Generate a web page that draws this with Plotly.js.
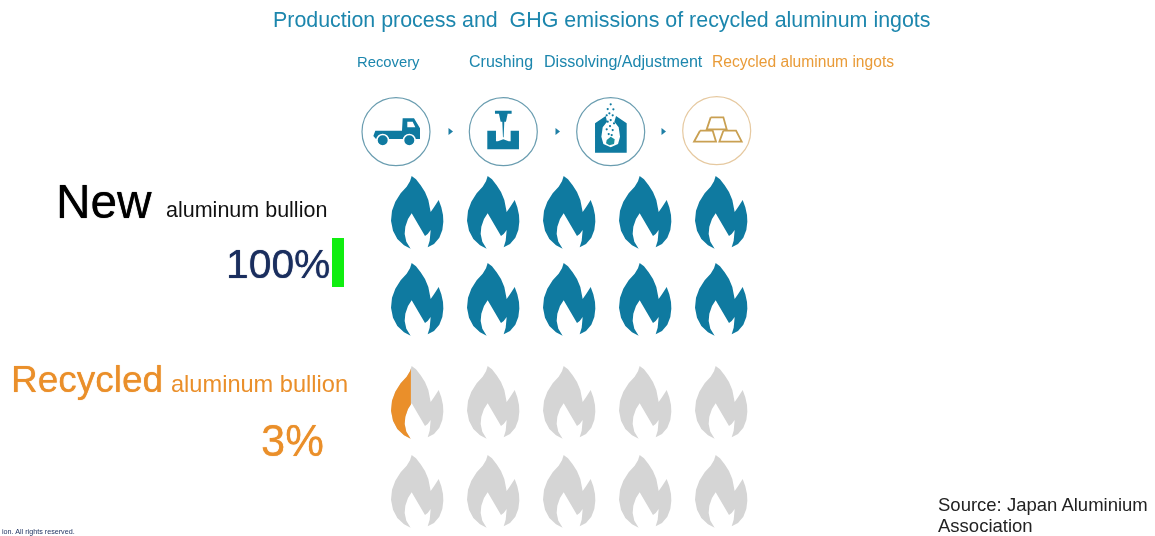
<!DOCTYPE html>
<html><head><meta charset="utf-8">
<script src="https://cdn.plot.ly/plotly-3.0.1.min.js"></script>
<style>html,body{margin:0;padding:0;background:#fff}#c{width:1155px;height:536px;filter:blur(0.45px)}</style>
</head><body><div id="c"></div>
<script>
// ---- Data ----
const titleText = "Production process and  GHG emissions of recycled aluminum ingots";
const processSteps = ["Recovery", "Crushing", "Dissolving/Adjustment", "Recycled aluminum ingots"];
const newFlameFill = [1,1,1,1,1,1,1,1,1,1];
const recycledFlameFill = [0.38,0,0,0,0,0,0,0,0,0];
const newLabel = "New", newSubLabel = "aluminum bullion", newShare = "100%";
const recycledLabel = "Recycled", recycledSubLabel = "aluminum bullion", recycledShare = "3%";
const sourceLines = ["Source: Japan Aluminium", "Association"];
const copyrightText = "ion. All rights reserved.";

// ---- Layout constants ----
const BLUE="#0f7aa0", GRAY="#d5d5d5", ORANGE="#ea8f2a", TITLEBLUE="#1c86ad", LABELORANGE="#e99b38", GOLD="#c9a052";
const FONT='"Liberation Sans", Arial, sans-serif';
const flameCols=[391,467,543,619,695], flameRowsNew=[170,257], flameRowsRec=[360,449];

const flameOutline=[[95,18],[108,28],[122,46],[135,66],[145,90],[150,110],[152,126],[162,112],[176,90],[184,112],[189,135],[190,155],[187,180],[178,203],[162,222],[143,232],[149,212],[152,180],[143,192],[135,198],[122,175],[108,150],[95,130],[84,147],[76,170],[74,192],[79,215],[92,236],[72,226],[52,207],[39,182],[33,152],[36,122],[46,95],[62,70],[80,50],[90,34]]
  .map(p=>[(p[0]-33)/3,p[1]/3]);
const flameW=(190-33)/3;

function clipRight(poly,xm){
  const out=[];
  for(let i=0;i<poly.length;i++){
    const a=poly[i],b=poly[(i+1)%poly.length],ai=a[0]<=xm,bi=b[0]<=xm;
    if(ai) out.push(a);
    if(ai!==bi){const t=(xm-a[0])/(b[0]-a[0]);out.push([xm,a[1]+t*(b[1]-a[1])]);}
  }
  return out;
}
function polyTrace(polys,ox,oy,color,opts){
  const x=[],y=[];
  polys.forEach(p=>{p.forEach(q=>{x.push(ox+q[0]);y.push(oy+q[1]);});x.push(ox+p[0][0]);y.push(oy+p[0][1]);x.push(null);y.push(null);});
  return Object.assign({type:"scatter",mode:"lines",x,y,fill:"toself",fillcolor:color,line:{width:0,color:color},hoverinfo:"skip"},opts||{});
}
const traces=[];
function drawFlames(fills,rows,full,empty){
  fills.forEach((f,i)=>{
    const ox=flameCols[i%5],oy=rows[Math.floor(i/5)];
    traces.push(polyTrace([flameOutline],ox,oy,f>=1?full:empty));
    if(f>0&&f<1) traces.push(polyTrace([clipRight(flameOutline,f*flameW)],ox,oy,full));
  });
}
drawFlames(newFlameFill,flameRowsNew,BLUE,GRAY);
drawFlames(recycledFlameFill,flameRowsRec,ORANGE,GRAY);

const iconCx=[396,503.3,610.7,716.7], iconCy=[131.7,131.7,131.7,130.7];
traces.push({type:"scatter",mode:"markers",x:iconCx.slice(0,3),y:iconCy.slice(0,3),marker:{symbol:"circle-open",size:68,color:"#6a9db0",line:{width:1.2,color:"#6a9db0"}},hoverinfo:"skip"});
traces.push({type:"scatter",mode:"markers",x:[iconCx[3]],y:[iconCy[3]],marker:{symbol:"circle-open",size:68,color:"#e6c9a0",line:{width:1.2,color:"#e6c9a0"}},hoverinfo:"skip"});
traces.push({type:"scatter",mode:"markers",x:[450,557,663],y:[131.5,131.5,131.5],marker:{symbol:"triangle-right",size:6,color:"#1f7fa5"},hoverinfo:"skip"});

const z=(cx,cy,pts)=>pts.map(p=>[(p[0]-cx)/3,(p[1]-cy)/3]);
traces.push(polyTrace([z(168,275,[[106,272],[186,272],[188,235],[222,235],[240,265],[240,297],[108,297],[100,288]])],iconCx[0],iconCy[0],BLUE));
traces.push(polyTrace([z(168,275,[[202,245],[218,245],[226,262],[202,262]])],iconCx[0],iconCy[0],"#ffffff"));
traces.push({type:"scatter",mode:"markers",x:[iconCx[0]-13.3,iconCx[0]+13.3],y:[iconCy[0]+8.5,iconCy[0]+8.5],marker:{size:11.5,color:BLUE,line:{width:1.5,color:"#fff"}},hoverinfo:"skip"});
traces.push(polyTrace([
  z(490,275,[[465,212],[515,212],[515,221],[503,221],[498,245],[482,245],[477,221],[465,221]]),
  z(490,275,[[487,245],[493,245],[491,292],[489,292]]),
  z(490,275,[[442,272],[468,272],[468,304],[512,304],[512,272],[537,272],[537,328],[442,328]]),
  z(490,275,[[474,304],[490,298],[506,304]])
],iconCx[1],iconCy[1],BLUE));
traces.push(polyTrace([z(812,275,[[765,338],[765,250],[797,228],[801,245],[788,262],[784,290],[790,312],[812,322],[834,312],[840,290],[836,262],[823,245],[828,228],[860,250],[860,338]])],iconCx[2],iconCy[2],BLUE));
traces.push(polyTrace([z(812,275,[[800,300],[812,290],[824,298],[822,312],[808,316],[798,310]])],iconCx[2],iconCy[2],"#1c8f9f"));
const furnaceDots=z(812,275,[[812,193],[803,207],[820,208],[808,220],[800,226],[818,226],[812,240],[803,245],[822,250],[810,258],[800,268],[818,270],[806,282],[815,285]]);
traces.push({type:"scatter",mode:"markers",x:furnaceDots.map(p=>iconCx[2]+p[0]),y:furnaceDots.map(p=>iconCy[2]+p[1]),marker:{size:2.2,color:BLUE},hoverinfo:"skip"});
[[[1112,232],[1150,232],[1160,268],[1100,268]],[[1080,272],[1118,272],[1128,305],[1062,305]],[[1150,272],[1188,272],[1205,305],[1138,305]]].forEach(p=>{
  const q=z(1130,272,p);
  traces.push({type:"scatter",mode:"lines",x:q.concat([q[0]]).map(r=>iconCx[3]+r[0]),y:q.concat([q[0]]).map(r=>iconCy[3]+r[1]),line:{color:GOLD,width:1.8},hoverinfo:"skip"});
});

function txt(text,x,y,size,color,shadow){
  const font={family:FONT,size:size,color:color};
  if(shadow) font.shadow="0 0 0.8px "+color;
  return {text:text,x:x,y:y,xref:"x",yref:"y",showarrow:false,xanchor:"left",yanchor:"middle",borderpad:0,font:font};
}
const annotations=[
  txt(titleText,272,20,21.4,TITLEBLUE),
  txt(processSteps[0],356,61.5,14.8,TITLEBLUE),
  txt(processSteps[1],468,61,16,TITLEBLUE),
  txt(processSteps[2],543,61,16.1,TITLEBLUE),
  txt(processSteps[3],711,61,15.6,LABELORANGE),
  txt(newLabel,55,201,47.8,"#000000",true),
  txt(newSubLabel,165,210,21.5,"#111111"),
  txt(newShare,225,264,40.8,"#1a2e5e",true),
  txt(recycledLabel,10,379,37,ORANGE,true),
  txt(recycledSubLabel,170,384,23.6,ORANGE),
  txt(recycledShare,260,441,43.5,ORANGE,true),
  txt(sourceLines[0],936.5,504,18.5,"#222222"),
  txt(sourceLines[1],936.5,525.5,18.5,"#222222"),
  txt(copyrightText,1,531,7.2,"#1a2e5e")
];
Plotly.newPlot("c",traces,{
  width:1155,height:536,margin:{l:0,r:0,t:0,b:0},showlegend:false,
  paper_bgcolor:"#ffffff",plot_bgcolor:"#ffffff",
  xaxis:{range:[0,1155],visible:false,fixedrange:true},
  yaxis:{range:[536,0],visible:false,fixedrange:true},
  annotations:annotations,
  shapes:[{type:"rect",xref:"x",yref:"y",x0:332,x1:344,y0:238,y1:287,fillcolor:"#10ee10",line:{width:0}}]
},{displayModeBar:false,staticPlot:true});
</script></body></html>
